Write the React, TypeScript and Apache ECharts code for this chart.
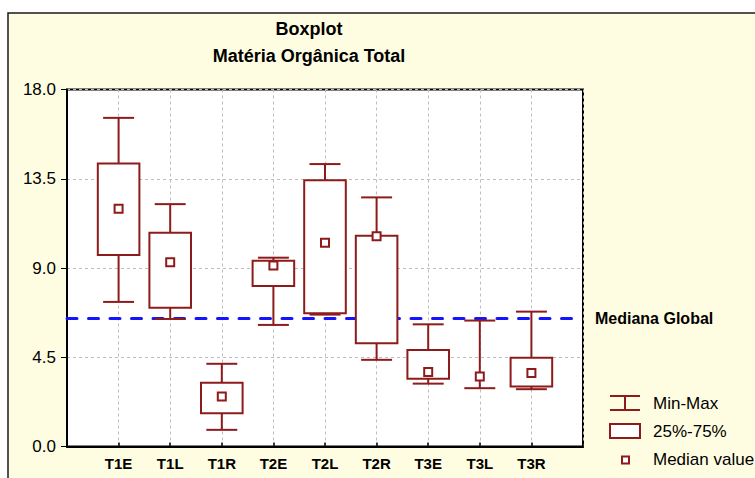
import React, { useEffect, useRef } from 'react';
import * as echarts from 'echarts';

const categories = ['T1E', 'T1L', 'T1R', 'T2E', 'T2L', 'T2R', 'T3E', 'T3L', 'T3R'];
const minValues = [7.29, 6.43, 0.84, 6.13, 6.65, 4.37, 3.17, 2.94, 2.89];
const q1Values = [9.65, 7.0, 1.68, 8.09, 6.72, 5.21, 3.41, 3.53, 3.02];
const medianValues = [11.99, 9.29, 2.52, 9.12, 10.27, 10.6, 3.76, 3.53, 3.7];
const q3Values = [14.27, 10.78, 3.22, 9.37, 13.43, 10.63, 4.87, 3.53, 4.48];
const maxValues = [16.57, 12.22, 4.17, 9.52, 14.24, 12.56, 6.16, 6.35, 6.8];
const globalMedian = 6.46;
const globalMedianLabel = 'Mediana Global';
const titleText = 'Boxplot';
const subtitleText = 'Matéria Orgânica Total';
const legendLabels = ['Min-Max', '25%-75%', 'Median value'];

const RED = '#8E1B1B';
const CREAM = '#FFFDE1';
const FONT = "'Liberation Sans', Arial, sans-serif";

export default function App() {
  const ref = useRef<HTMLDivElement>(null);

  useEffect(() => {
    if (!ref.current) return;
    const chart = echarts.init(ref.current, undefined, { renderer: 'svg' });

    const data = categories.map((_, i) => [
      i + 1,
      minValues[i],
      q1Values[i],
      medianValues[i],
      q3Values[i],
      maxValues[i],
    ]);

    const option: any = {
      animation: false,
      backgroundColor: '#ffffff',
      textStyle: { fontFamily: FONT },
      grid: {
        left: 67,
        top: 89.5,
        right: 172,
        bottom: 31.5,
        show: true,
        backgroundColor: '#ffffff',
        borderColor: '#000',
        borderWidth: 2,
      },
      xAxis: {
        type: 'value',
        min: 0,
        max: 10,
        interval: 1,
        axisLine: { show: true, lineStyle: { color: '#000', width: 2 } },
        axisTick: { show: true, inside: true, length: 4, lineStyle: { color: '#000', width: 1.5 } },
        axisLabel: {
          formatter: (v: number) => categories[v - 1] ?? '',
          color: '#000',
          fontWeight: 'bold',
          fontSize: 15,
          fontFamily: FONT,
          margin: 9,
        },
        splitLine: { show: true, lineStyle: { color: '#bdbdbd', type: [3, 3], width: 1 } },
      },
      yAxis: {
        type: 'value',
        min: 0,
        max: 18,
        interval: 4.5,
        axisLine: { show: true, lineStyle: { color: '#000', width: 2 } },
        axisTick: { show: true, inside: false, length: 6, lineStyle: { color: '#000', width: 1 } },
        axisLabel: {
          formatter: (v: number) => v.toFixed(1),
          color: '#000',
          fontSize: 17,
          fontFamily: FONT,
          margin: 11,
        },
        splitLine: { show: true, lineStyle: { color: '#bdbdbd', type: [3, 3], width: 1 } },
      },
      graphic: [
        {
          type: 'rect',
          z: -100,
          shape: { x: 8, y: 13, width: 800, height: 500 },
          style: { fill: CREAM, stroke: '#1a1a1a', lineWidth: 1.5 },
          silent: true,
        },
        {
          type: 'text',
          x: 309,
          y: 29,
          style: {
            text: titleText,
            textAlign: 'center',
            textVerticalAlign: 'middle',
            fontSize: 18,
            fontWeight: 'bold',
            fontFamily: FONT,
            fill: '#000',
          },
        },
        {
          type: 'text',
          x: 309,
          y: 56,
          style: {
            text: subtitleText,
            textAlign: 'center',
            textVerticalAlign: 'middle',
            fontSize: 18,
            fontWeight: 'bold',
            fontFamily: FONT,
            fill: '#000',
          },
        },
        // legend: Min-Max icon
        { type: 'line', shape: { x1: 610, y1: 396, x2: 640, y2: 396 }, style: { stroke: RED, lineWidth: 2 } },
        { type: 'line', shape: { x1: 610, y1: 410, x2: 640, y2: 410 }, style: { stroke: RED, lineWidth: 2 } },
        { type: 'line', shape: { x1: 625, y1: 396, x2: 625, y2: 410 }, style: { stroke: RED, lineWidth: 2 } },
        {
          type: 'text',
          x: 653,
          y: 403,
          style: { text: legendLabels[0], textVerticalAlign: 'middle', fontSize: 17, fontFamily: FONT, fill: '#000' },
        },
        // legend: box icon
        {
          type: 'rect',
          shape: { x: 610, y: 424, width: 30, height: 14 },
          style: { fill: '#fff', stroke: RED, lineWidth: 2 },
        },
        {
          type: 'text',
          x: 653,
          y: 431,
          style: { text: legendLabels[1], textVerticalAlign: 'middle', fontSize: 17, fontFamily: FONT, fill: '#000' },
        },
        // legend: median marker
        {
          type: 'rect',
          shape: { x: 622, y: 456.5, width: 7, height: 7 },
          style: { fill: '#fff', stroke: RED, lineWidth: 2 },
        },
        {
          type: 'text',
          x: 653,
          y: 459,
          style: { text: legendLabels[2], textVerticalAlign: 'middle', fontSize: 17, fontFamily: FONT, fill: '#000' },
        },
      ],
      series: [
        {
          type: 'custom',
          z: 5,
          encode: { x: 0, y: [1, 2, 3, 4, 5] },
          data,
          renderItem: (params: any, api: any) => {
            const x = api.value(0);
            const cx = api.coord([x, api.value(1)])[0];
            const yMin = api.coord([x, api.value(1)])[1];
            const yQ1 = api.coord([x, api.value(2)])[1];
            const yMed = api.coord([x, api.value(3)])[1];
            const yQ3 = api.coord([x, api.value(4)])[1];
            const yMax = api.coord([x, api.value(5)])[1];
            const unit = api.size([1, 0])[0];
            const bh = unit * 0.403;
            const ch = unit * 0.3;
            const m = 4;
            const ls = { stroke: RED, lineWidth: 2, fill: 'none' };
            const children: any[] = [
              { type: 'line', shape: { x1: cx, y1: yMax, x2: cx, y2: yQ3 }, style: ls },
              { type: 'line', shape: { x1: cx - ch, y1: yMax, x2: cx + ch, y2: yMax }, style: ls },
              { type: 'line', shape: { x1: cx, y1: yQ1, x2: cx, y2: yMin }, style: ls },
              { type: 'line', shape: { x1: cx - ch, y1: yMin, x2: cx + ch, y2: yMin }, style: ls },
            ];
            if (yQ1 - yQ3 > 0.5) {
              children.push({
                type: 'rect',
                shape: { x: cx - bh, y: yQ3, width: bh * 2, height: yQ1 - yQ3 },
                style: { fill: '#fff', stroke: RED, lineWidth: 2 },
              });
            }
            children.push({
              type: 'rect',
              shape: { x: cx - m, y: yMed - m, width: m * 2, height: m * 2 },
              style: { fill: '#fff', stroke: RED, lineWidth: 2 },
            });
            return { type: 'group', children };
          },
        },
        {
          type: 'line',
          z: 10,
          data: [],
          markLine: {
            silent: true,
            symbol: ['none', 'none'],
            lineStyle: { color: '#1414FF', width: 3, type: [10, 11.5], cap: 'round' },
            label: {
              show: true,
              position: 'end',
              formatter: globalMedianLabel,
              color: '#000',
              fontWeight: 'bold',
              fontSize: 16,
              fontFamily: FONT,
              distance: 12,
            },
            data: [{ yAxis: globalMedian }],
          },
        },
      ],
    };

    chart.setOption(option);
    return () => chart.dispose();
  }, []);

  return (
    <div
      ref={ref}
      style={{ position: 'absolute', left: 0, top: 0, width: 755, height: 478 }}
    />
  );
}
